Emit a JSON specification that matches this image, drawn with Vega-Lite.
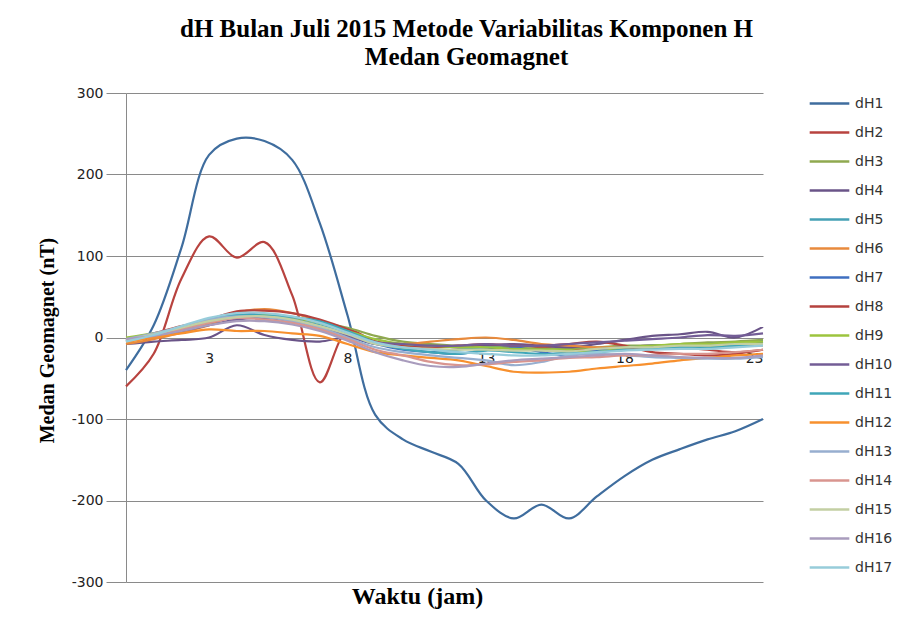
{
  "$schema": "https://vega.github.io/schema/vega-lite/v6.json",
  "autosize": {"type": "none"},
  "width": 637,
  "height": 489,
  "padding": {"left": 126, "top": 93, "right": 152, "bottom": 43},
  "background": "white",
  "config": {"view": {"stroke": null}},
  "title": {
    "text": ["dH Bulan Juli 2015 Metode Variabilitas Komponen  H", "Medan Geomagnet"],
    "font": "Liberation Serif",
    "fontSize": 25,
    "fontWeight": "bold",
    "color": "#000000",
    "anchor": "middle",
    "dx": 22,
    "offset": 12,
    "lineHeight": 28
  },
  "data": {
    "values": [
      {"h": 0, "dH1": -40, "dH2": -60, "dH3": -3, "dH4": -8, "dH5": -5, "dH6": -8, "dH7": -5, "dH8": -2, "dH9": 0, "dH10": -3, "dH11": -4, "dH12": -6, "dH13": -2, "dH14": -4, "dH15": -3, "dH16": -2, "dH17": -5},
      {"h": 1, "dH1": 15, "dH2": -20, "dH3": 3, "dH4": -5, "dH5": 2, "dH6": -2, "dH7": 3, "dH8": 5, "dH9": 5, "dH10": 2, "dH11": 4, "dH12": 0, "dH13": 5, "dH14": 3, "dH15": 4, "dH16": 2, "dH17": 3},
      {"h": 2, "dH1": 110, "dH2": 72, "dH3": 10, "dH4": -3, "dH5": 10, "dH6": 6, "dH7": 12, "dH8": 14, "dH9": 12, "dH10": 8, "dH11": 12, "dH12": 5, "dH13": 13, "dH14": 10, "dH15": 12, "dH16": 8, "dH17": 14},
      {"h": 3, "dH1": 224, "dH2": 124, "dH3": 18, "dH4": 0, "dH5": 20, "dH6": 15, "dH7": 22, "dH8": 22, "dH9": 20, "dH10": 15, "dH11": 22, "dH12": 10, "dH13": 22, "dH14": 18, "dH15": 20, "dH16": 15, "dH17": 24},
      {"h": 4, "dH1": 244, "dH2": 98, "dH3": 26, "dH4": 15, "dH5": 28, "dH6": 30, "dH7": 30, "dH8": 32, "dH9": 26, "dH10": 22, "dH11": 28, "dH12": 8, "dH13": 26, "dH14": 24, "dH15": 25, "dH16": 20, "dH17": 30},
      {"h": 5, "dH1": 241, "dH2": 117, "dH3": 28, "dH4": 3, "dH5": 27, "dH6": 35, "dH7": 28, "dH8": 33, "dH9": 28, "dH10": 24, "dH11": 27, "dH12": 8, "dH13": 25, "dH14": 22, "dH15": 26, "dH16": 20, "dH17": 30},
      {"h": 6, "dH1": 218, "dH2": 52, "dH3": 24, "dH4": -3, "dH5": 22, "dH6": 30, "dH7": 22, "dH8": 30, "dH9": 25, "dH10": 20, "dH11": 25, "dH12": 5, "dH13": 20, "dH14": 18, "dH15": 22, "dH16": 16, "dH17": 26},
      {"h": 7, "dH1": 140, "dH2": -55, "dH3": 18, "dH4": -5, "dH5": 15, "dH6": 20, "dH7": 12, "dH8": 22, "dH9": 18, "dH10": 12, "dH11": 20, "dH12": 2, "dH13": 12, "dH14": 10, "dH15": 14, "dH16": 8, "dH17": 18},
      {"h": 8, "dH1": 27, "dH2": 8, "dH3": 12, "dH4": 0, "dH5": 5, "dH6": 8, "dH7": 2, "dH8": 10, "dH9": 8, "dH10": 2, "dH11": 8, "dH12": -8, "dH13": 0, "dH14": -2, "dH15": 4, "dH16": -4, "dH17": 6},
      {"h": 9, "dH1": -95, "dH2": -5, "dH3": 2, "dH4": -8, "dH5": -5, "dH6": -5, "dH7": -8, "dH8": -5, "dH9": -2, "dH10": -6, "dH11": -6, "dH12": -18, "dH13": -12, "dH14": -15, "dH15": -8, "dH16": -18, "dH17": -6},
      {"h": 10, "dH1": -125, "dH2": -8, "dH3": -5, "dH4": -10, "dH5": -12, "dH6": -8, "dH7": -15, "dH8": -10, "dH9": -8, "dH10": -8, "dH11": -14, "dH12": -22, "dH13": -18, "dH14": -22, "dH15": -12, "dH16": -28, "dH17": -12},
      {"h": 11, "dH1": -140, "dH2": -10, "dH3": -8, "dH4": -10, "dH5": -18, "dH6": -5, "dH7": -18, "dH8": -12, "dH9": -10, "dH10": -10, "dH11": -18, "dH12": -25, "dH13": -22, "dH14": -30, "dH15": -14, "dH16": -35, "dH17": -15},
      {"h": 12, "dH1": -155, "dH2": -12, "dH3": -10, "dH4": -12, "dH5": -15, "dH6": -2, "dH7": -20, "dH8": -10, "dH9": -12, "dH10": -10, "dH11": -20, "dH12": -28, "dH13": -25, "dH14": -34, "dH15": -15, "dH16": -36, "dH17": -18},
      {"h": 13, "dH1": -200, "dH2": -12, "dH3": -10, "dH4": -10, "dH5": -12, "dH6": 0, "dH7": -15, "dH8": -8, "dH9": -12, "dH10": -8, "dH11": -16, "dH12": -35, "dH13": -28, "dH14": -33, "dH15": -15, "dH16": -32, "dH17": -20},
      {"h": 14, "dH1": -222, "dH2": -10, "dH3": -12, "dH4": -8, "dH5": -14, "dH6": -3, "dH7": -12, "dH8": -10, "dH9": -14, "dH10": -10, "dH11": -18, "dH12": -42, "dH13": -34, "dH14": -30, "dH15": -16, "dH16": -28, "dH17": -22},
      {"h": 15, "dH1": -205, "dH2": -12, "dH3": -14, "dH4": -10, "dH5": -16, "dH6": -8, "dH7": -18, "dH8": -10, "dH9": -15, "dH10": -10, "dH11": -20, "dH12": -43, "dH13": -30, "dH14": -28, "dH15": -16, "dH16": -26, "dH17": -22},
      {"h": 16, "dH1": -222, "dH2": -15, "dH3": -13, "dH4": -12, "dH5": -18, "dH6": -10, "dH7": -22, "dH8": -8, "dH9": -15, "dH10": -8, "dH11": -20, "dH12": -42, "dH13": -22, "dH14": -25, "dH15": -17, "dH16": -24, "dH17": -20},
      {"h": 17, "dH1": -195, "dH2": -15, "dH3": -12, "dH4": -8, "dH5": -16, "dH6": -12, "dH7": -15, "dH8": -5, "dH9": -18, "dH10": -6, "dH11": -18, "dH12": -38, "dH13": -20, "dH14": -24, "dH15": -14, "dH16": -22, "dH17": -18},
      {"h": 18, "dH1": -170, "dH2": -12, "dH3": -10, "dH4": -3, "dH5": -14, "dH6": -12, "dH7": -12, "dH8": -10, "dH9": -12, "dH10": -4, "dH11": -15, "dH12": -35, "dH13": -22, "dH14": -22, "dH15": -12, "dH16": -20, "dH17": -16},
      {"h": 19, "dH1": -150, "dH2": -10, "dH3": -10, "dH4": 2, "dH5": -12, "dH6": -14, "dH7": -10, "dH8": -18, "dH9": -10, "dH10": -2, "dH11": -14, "dH12": -32, "dH13": -24, "dH14": -22, "dH15": -12, "dH16": -22, "dH17": -15},
      {"h": 20, "dH1": -137, "dH2": -12, "dH3": -8, "dH4": 4, "dH5": -12, "dH6": -12, "dH7": -10, "dH8": -20, "dH9": -8, "dH10": 0, "dH11": -12, "dH12": -28, "dH13": -25, "dH14": -20, "dH15": -10, "dH16": -24, "dH17": -14},
      {"h": 21, "dH1": -125, "dH2": -15, "dH3": -6, "dH4": 7, "dH5": -10, "dH6": -12, "dH7": -8, "dH8": -22, "dH9": -8, "dH10": 3, "dH11": -12, "dH12": -25, "dH13": -26, "dH14": -20, "dH15": -10, "dH16": -25, "dH17": -14},
      {"h": 22, "dH1": -115, "dH2": -18, "dH3": -5, "dH4": 0, "dH5": -10, "dH6": -10, "dH7": -8, "dH8": -20, "dH9": -6, "dH10": 2, "dH11": -10, "dH12": -22, "dH13": -26, "dH14": -18, "dH15": -8, "dH16": -25, "dH17": -12},
      {"h": 23, "dH1": -100, "dH2": -15, "dH3": -3, "dH4": 13, "dH5": -8, "dH6": -10, "dH7": -5, "dH8": -15, "dH9": -5, "dH10": 5, "dH11": -8, "dH12": -20, "dH13": -24, "dH14": -15, "dH15": -8, "dH16": -22, "dH17": -10}
    ]
  },
  "transform": [
    {"fold": ["dH1", "dH2", "dH3", "dH4", "dH5", "dH6", "dH7", "dH8", "dH9", "dH10", "dH11", "dH12", "dH13", "dH14", "dH15", "dH16", "dH17"], "as": ["series", "value"]}
  ],
  "mark": {"type": "line", "interpolate": "catmull-rom", "strokeWidth": 2.2},
  "encoding": {
    "x": {
      "field": "h",
      "type": "quantitative",
      "scale": {"domain": [0, 23], "nice": false, "zero": false},
      "axis": {
        "values": [3, 8, 13, 18, 23],
        "offset": -245,
        "domain": false,
        "ticks": false,
        "grid": false,
        "labelFont": "DejaVu Sans",
        "labelFontSize": 14,
        "labelColor": "#222222",
        "labelPadding": 14,
        "title": "Waktu (jam)",
        "titleFont": "Liberation Serif",
        "titleFontSize": 24,
        "titleFontWeight": "bold",
        "titleColor": "#000000",
        "titleX": 291,
        "titleY": 259,
        "titleBaseline": "middle"
      }
    },
    "y": {
      "field": "value",
      "type": "quantitative",
      "scale": {"domain": [-300, 300], "nice": false},
      "axis": {
        "values": [-300, -200, -100, 0, 100, 200, 300],
        "labelExpr": "replace(datum.label, '\u2212', '-')",
        "grid": true,
        "gridColor": "#8a8a8a",
        "gridWidth": 1,
        "domainColor": "#8a8a8a",
        "tickColor": "#8a8a8a",
        "tickSize": 20,
        "labelPadding": 3,
        "labelFont": "DejaVu Sans",
        "labelFontSize": 14,
        "labelColor": "#222222",
        "title": "Medan Geomagnet (nT)",
        "titleFont": "Liberation Serif",
        "titleFontSize": 20,
        "titleFontWeight": "bold",
        "titleColor": "#000000",
        "titleX": -79,
        "titleY": 247,
        "titleAlign": "center",
        "titleBaseline": "middle"
      }
    },
    "color": {
      "field": "series",
      "type": "nominal",
      "scale": {
        "domain": ["dH1", "dH2", "dH3", "dH4", "dH5", "dH6", "dH7", "dH8", "dH9", "dH10", "dH11", "dH12", "dH13", "dH14", "dH15", "dH16", "dH17"],
        "range": ["#3F6D9E", "#B8433F", "#8FA94F", "#6A5488", "#45A0B5", "#E88A3C", "#3F6FC0", "#B5423E", "#9CC43E", "#735D96", "#3FA6B8", "#F7902E", "#97AECF", "#D9958F", "#C3CFA3", "#A99CBD", "#97CCDA"]
      },
      "legend": {
        "orient": "none",
        "legendX": 682,
        "legendY": -11,
        "title": null,
        "symbolType": "stroke",
        "symbolSize": 1570,
        "symbolStrokeWidth": 2.5,
        "labelFont": "DejaVu Sans",
        "labelFontSize": 14,
        "labelColor": "#333333",
        "labelOffset": 4,
        "rowPadding": 0
      }
    }
  }
}
